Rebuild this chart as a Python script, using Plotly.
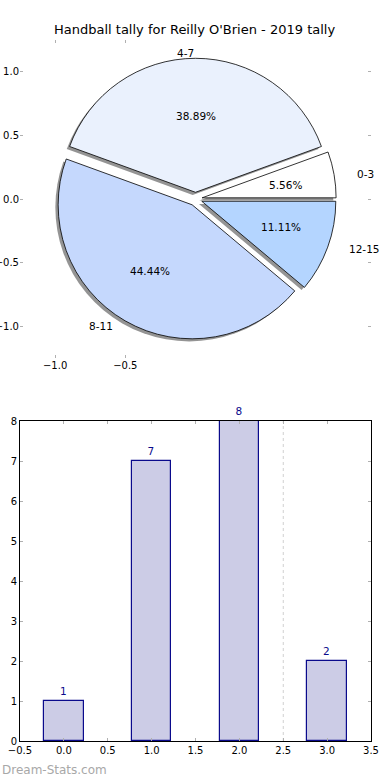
import math
import plotly.graph_objects as go

# ---- data ----
title_text = "Handball tally for Reilly O'Brien - 2019 tally"
pie_labels = ["0-3", "4-7", "8-11", "12-15"]
pie_values = [1, 7, 8, 2]
pie_colors = ["#ffffff", "#eaf1fd", "#c5d8fd", "#b4d5ff"]
explode = [0.05, 0.05, 0.05, 0.05]

bar_x = [0, 1, 2, 3]
bar_values = [1, 7, 8, 2]
divider_x = 2.5

pie_yticks = [1.0, 0.5, 0.0, -0.5, -1.0]
pie_xticks = [-1.0, -0.5]
bar_xticks = [-0.5, 0.0, 0.5, 1.0, 1.5, 2.0, 2.5, 3.0, 3.5]
bar_yticks = [0, 1, 2, 3, 4, 5, 6, 7, 8]

W, H = 390, 780
FONT = "DejaVu Sans"

def px_x(a, b):
    return [a / W, b / W]

def px_y(top, bottom):
    return [(H - bottom) / H, (H - top) / H]

def fmt(v):
    return ("\u2212" + f"{abs(v):.1f}") if v < 0 else f"{v:.1f}"

fig = go.Figure()

# pie geometry (pixels)
cx, cy = 195.5, 199.0
r = 134.0
pull = max(explode)
half = r * (1 + pull)
shadow_dx, shadow_dy = -2.8, 2.6

total = float(sum(pie_values))
# matplotlib startangle=0 counterclockwise; plotly ccw puts the first slice
# clockwise from 'rotation', so shift by the first slice's angle
rotation = 90 - 360.0 * pie_values[0] / total

# shadow pie
fig.add_trace(go.Pie(
    labels=pie_labels, values=pie_values, sort=False, direction="counterclockwise",
    rotation=rotation, pull=explode, textinfo="none", hoverinfo="skip", showlegend=False,
    marker=dict(colors=["rgba(60,60,60,0.55)"] * len(pie_values), line=dict(width=0)),
    domain=dict(x=px_x(cx - half + shadow_dx, cx + half + shadow_dx),
                y=px_y(cy - half + shadow_dy, cy + half + shadow_dy)),
))
# main pie
fig.add_trace(go.Pie(
    labels=pie_labels, values=pie_values, sort=False, direction="counterclockwise",
    rotation=rotation, pull=explode, textinfo="none", showlegend=False,
    marker=dict(colors=pie_colors, line=dict(color="#000000", width=0.8)),
    domain=dict(x=px_x(cx - half, cx + half), y=px_y(cy - half, cy + half)),
))

# bars
fig.add_trace(go.Bar(
    x=bar_x, y=bar_values, width=0.45, xaxis="x2", yaxis="y2",
    marker=dict(color="#ccccE6", line=dict(color="#0a0a8c", width=1.2)),
    text=[str(v) for v in bar_values], textposition="outside", cliponaxis=False,
    textfont=dict(family=FONT, size=10.5, color="#0a0a8c"), showlegend=False,
))

tick_common = dict(ticks="inside", ticklen=3, tickcolor="#b0b0b0", tickwidth=1,
                   showgrid=False, zeroline=False, automargin=False,
                   tickfont=dict(family=FONT, size=10, color="#000000"))

fig.update_layout(
    width=W, height=H, margin=dict(l=0, r=0, t=0, b=0, pad=0, autoexpand=False),
    paper_bgcolor="white", plot_bgcolor="white",
    font=dict(family=FONT, size=10, color="#000000"),
    xaxis=dict(domain=px_x(20, 371), range=[-1.25, 1.25], anchor="y",
               showline=False, mirror="ticks", tickvals=pie_xticks,
               ticktext=[fmt(v) for v in pie_xticks], **tick_common),
    yaxis=dict(domain=px_y(40, 358), range=[-1.25, 1.25], anchor="x",
               showline=False, mirror="ticks", tickvals=pie_yticks,
               ticktext=[fmt(v) for v in pie_yticks], **tick_common),
    xaxis2=dict(domain=px_x(20, 371), range=[-0.5, 3.5], anchor="y2",
                showline=True, linecolor="#000000", linewidth=1, mirror="ticks",
                tickvals=bar_xticks, ticktext=[fmt(v) for v in bar_xticks],
                **tick_common),
    yaxis2=dict(domain=px_y(421, 741), range=[0, 8], anchor="x2",
                showline=True, linecolor="#000000", linewidth=1, mirror="ticks",
                tickvals=bar_yticks, ticktext=[str(v) for v in bar_yticks],
                **tick_common),
    bargap=0,
)

# dotted divider line in the bar chart
fig.add_shape(type="line", xref="x2", yref="y2 domain", x0=divider_x, x1=divider_x,
              y0=0, y1=1, line=dict(color="#d0d0d0", width=1, dash="dot"), layer="below")

# pie text annotations, positioned like matplotlib (in pie data coords)
theta1 = 0.0
for lab, val, ex in zip(pie_labels, pie_values, explode):
    theta2 = theta1 + val / total
    thetam = 2 * math.pi * 0.5 * (theta1 + theta2)
    c, s = math.cos(thetam), math.sin(thetam)
    fig.add_annotation(x=(ex + 0.6) * c, y=(ex + 0.6) * s, xref="x", yref="y",
                       text=f"{100 * val / total:.2f}%", showarrow=False,
                       xanchor="center", yanchor="middle",
                       font=dict(family=FONT, size=10.5, color="#000000"))
    fig.add_annotation(x=(ex + 1.1) * c, y=(ex + 1.1) * s, xref="x", yref="y",
                       text=lab, showarrow=False,
                       xanchor="left" if c > 1e-9 else "right", yanchor="middle",
                       font=dict(family=FONT, size=10.5, color="#000000"))
    theta1 = theta2

# title
fig.add_annotation(x=194.5 / W, y=(H - 30) / H, xref="paper", yref="paper",
                   text=title_text, showarrow=False, xanchor="center", yanchor="middle",
                   font=dict(family=FONT, size=13, color="#000000"))

# watermark
fig.add_annotation(x=0, y=(H - 770) / H, xref="paper", yref="paper",
                   text="Dream-Stats.com", showarrow=False, xanchor="left", yanchor="middle",
                   font=dict(family=FONT, size=12, color="#a8a8a8"))

fig.write_html("out.html", config={"displayModeBar": False},
               post_script="document.body.style.margin='0px';"
                           "document.body.style.overflow='hidden';")
